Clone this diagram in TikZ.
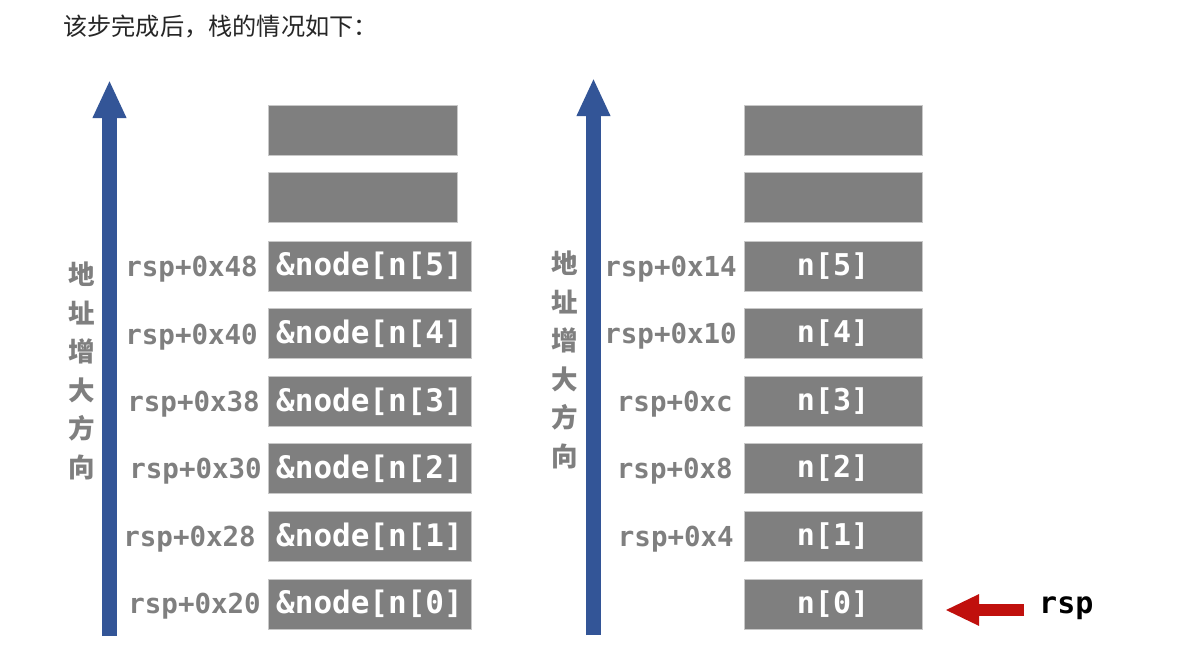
\documentclass[tikz,border=0pt]{standalone}
\usepackage{fontspec}
\newfontfamily\cjk{Noto Sans CJK SC}
\newfontfamily\mono{DejaVu Sans Mono}
\usetikzlibrary{arrows.meta}
\definecolor{boxgray}{HTML}{7F7F7F}
\definecolor{boxedge}{HTML}{C8C8C8}
\definecolor{txtgray}{HTML}{7F7F7F}
\definecolor{arrblue}{HTML}{335597}
\definecolor{arrred}{HTML}{C0100D}
\begin{document}
\begin{tikzpicture}[x=1pt,y=-1pt,
  cell/.style={draw=boxedge, line width=0.8pt, fill=boxgray, inner sep=0pt, minimum height=50pt, text=white, font=\mono\bfseries\fontsize{31}{31}\selectfont},
  lcell/.style={cell, minimum width=203pt},
  lempty/.style={cell, minimum width=189pt},
  rcell/.style={cell, minimum width=178pt, font=\mono\bfseries\fontsize{30}{30}\selectfont},
  addr/.style={anchor=east, inner sep=0pt, text=txtgray, font=\mono\bfseries\fontsize{27.5}{27.5}\selectfont},
  vtext/.style={align=center, inner sep=0pt, text=txtgray, font=\cjk\bfseries\fontsize{26.5}{38.6}\selectfont},
  bluearrow/.style={draw=arrblue, line width=15pt, -{Triangle[length=38pt,width=31pt]}, arrblue},
]
\useasboundingbox (0,0) rectangle (1184,657);
\fill[white] (0,0) rectangle (1184,657);

\node[anchor=west, inner sep=0pt, font=\cjk\fontsize{24.2}{24.2}\selectfont, text=black!85] (title) at (63,27) {该步完成后，栈的情况如下：};

% left stack
\coordinate (lbot) at (109.5,636);
\coordinate (ltop) at (109.5,80);
\draw[bluearrow] (lbot) -- (ltop);
\node[vtext] (lvt) at (82,371) {地\\址\\增\\大\\方\\向};

\node[lempty] (le1) at (362.5,130) {};
\node[lempty] (le2) at (362.5,197.5) {};
\node[lcell] (l5) at (369.5,266) {\&node[n[5]};
\node[lcell] (l4) at (369.5,333.5) {\&node[n[4]};
\node[lcell] (l3) at (369.5,401.5) {\&node[n[3]};
\node[lcell] (l2) at (369.5,468.5) {\&node[n[2]};
\node[lcell] (l1) at (369.5,536.5) {\&node[n[1]};
\node[lcell] (l0) at (369.5,604) {\&node[n[0]};

\node[addr] (la5) at (258,269) {rsp+0x48};
\node[addr] (la4) at (258,337) {rsp+0x40};
\node[addr] (la3) at (260,404) {rsp+0x38};
\node[addr] (la2) at (262,471) {rsp+0x30};
\node[addr] (la1) at (256,539) {rsp+0x28};
\node[addr] (la0) at (261,606) {rsp+0x20};

% right stack
\coordinate (rbot) at (593.5,635);
\coordinate (rtop) at (593.5,78);
\draw[bluearrow] (rbot) -- (rtop);
\node[vtext] (rvt) at (565,360) {地\\址\\增\\大\\方\\向};

\node[rcell] (re1) at (833,130) {};
\node[rcell] (re2) at (833,197.5) {};
\node[rcell] (r5) at (833,266) {n[5]};
\node[rcell] (r4) at (833,333.5) {n[4]};
\node[rcell] (r3) at (833,401.5) {n[3]};
\node[rcell] (r2) at (833,468.5) {n[2]};
\node[rcell] (r1) at (833,536.5) {n[1]};
\node[rcell] (r0) at (833,604) {n[0]};

\node[addr] (ra5) at (737,269) {rsp+0x14};
\node[addr] (ra4) at (737,336) {rsp+0x10};
\node[addr] (ra3) at (733,404) {rsp+0xc};
\node[addr] (ra2) at (733,471) {rsp+0x8};
\node[addr] (ra1) at (734,539) {rsp+0x4};

% rsp pointer
\node[anchor=west, inner sep=0pt, text=black, font=\mono\bfseries\fontsize{30}{30}\selectfont] (rsp) at (1039,608) {rsp};
\coordinate (rsptail) at (1024,610);
\coordinate (rsphead) at (945,610);
\draw[draw=arrred, fill=arrred, line width=12pt, -{Triangle[length=34pt,width=29pt]}] (rsptail) -- (rsphead);
\end{tikzpicture}
\end{document}
